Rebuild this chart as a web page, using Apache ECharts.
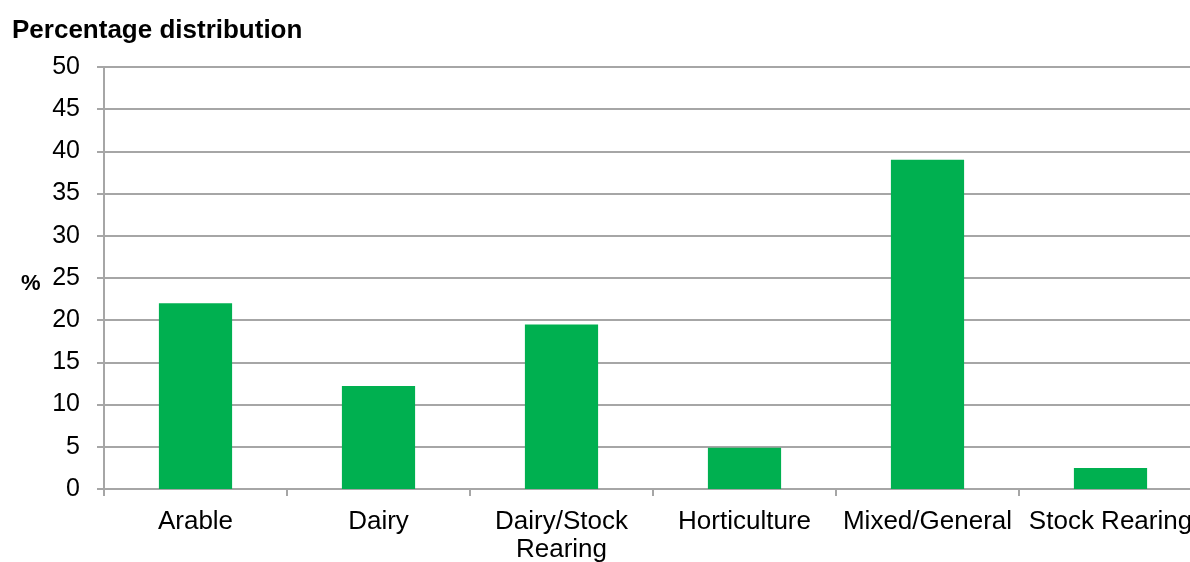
<!DOCTYPE html>
<html>
<head>
<meta charset="utf-8">
<script src="https://cdn.jsdelivr.net/npm/echarts@6/dist/echarts.min.js"></script>
<style>
  html, body { margin: 0; padding: 0; background: #fff; }
  #chart { width: 1190px; height: 562px; }
</style>
</head>
<body>
<div id="chart"></div>
<script>
// data
var categories = ['Arable', 'Dairy', 'Dairy/Stock\nRearing', 'Horticulture', 'Mixed/General', 'Stock Rearing'];
var shares = [22, 12.2, 19.5, 4.9, 39, 2.5];

var gridColor = '#a6a6a6';
var chart = echarts.init(document.getElementById('chart'));

var option = {
    animation: false
    , title: [{
        text: 'Percentage distribution'
        , left: 7
        , top: 13
        , textStyle: { fontFamily: 'Liberation Sans', fontSize: 26, fontWeight: 'bold', color: '#000' }
    }, {
        text: '%'
        , left: 16
        , top: 268
        , textStyle: { fontFamily: 'Liberation Sans', fontSize: 22, fontWeight: 'bold', color: '#000' }
    }]
    // plot runs past the right edge, like the original (last tick is off-canvas)
    , grid: { left: 104, width: 1098, top: 67, bottom: 73, containLabel: false, outerBoundsMode: 'none' }
    , xAxis: {
        type: 'category'
        , data: categories
        , axisLine: { lineStyle: { color: gridColor, width: 2 } }
        , axisTick: { show: true, length: 7, alignWithLabel: false, lineStyle: { color: gridColor, width: 2 } }
        , axisLabel: {
            interval: 0
            , margin: 19
            , color: '#000'
            , fontFamily: 'Liberation Sans'
            , fontSize: 26
            , lineHeight: 28
        }
    }
    , yAxis: {
        type: 'value'
        , min: 0
        , max: 50
        , interval: 5
        , axisLine: { show: true, lineStyle: { color: gridColor, width: 2 } }
        , axisTick: { show: true, length: 7, lineStyle: { color: gridColor, width: 2 } }
        , splitLine: { lineStyle: { color: gridColor, width: 2 } }
        , axisLabel: {
            margin: 24
            , color: '#000'
            , fontFamily: 'Liberation Sans'
            , fontSize: 25
        }
    }
    , series: [{
        type: 'bar'
        , data: shares
        , barWidth: '40%'
        , itemStyle: { color: '#00b050' }
    }]
};

chart.setOption(option);
</script>
</body>
</html>
